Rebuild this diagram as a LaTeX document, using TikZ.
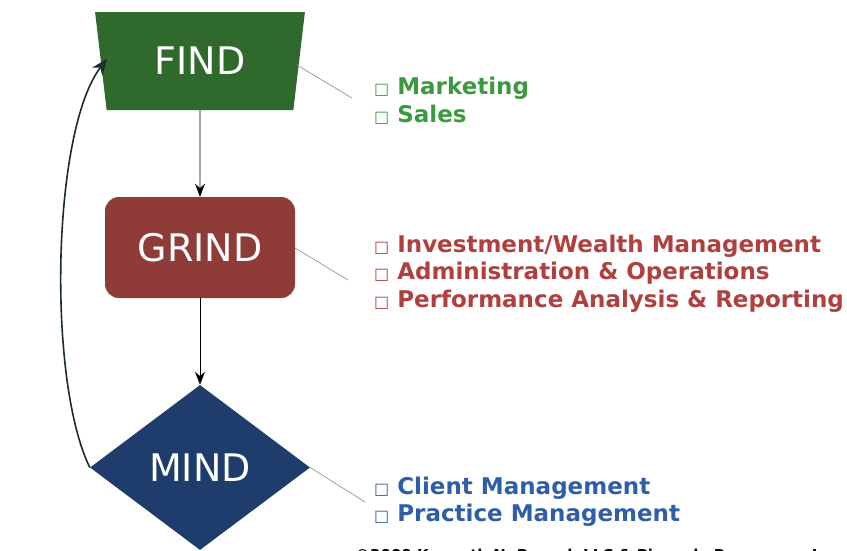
\documentclass[tikz,border=0pt]{standalone}
\usepackage{fontspec}
\setmainfont{DejaVu Sans}
\usetikzlibrary{shapes.geometric,arrows.meta}
\definecolor{findgreen}{HTML}{2F6A2C}
\definecolor{grindred}{HTML}{8F3C39}
\definecolor{mindblue}{HTML}{1E3D6C}
\definecolor{txtgreen}{HTML}{3C9A3E}
\definecolor{txtred}{HTML}{B0403F}
\definecolor{txtblue}{HTML}{2F5EA8}
\definecolor{leader}{HTML}{8A8A8A}
\definecolor{loopcol}{HTML}{1B2B33}
\begin{document}
\begin{tikzpicture}[x=1pt,y=-1pt,
  stage/.style={text=white,font=\fontsize{38}{38}\selectfont,inner sep=0pt},
  flow/.style={-{Stealth[length=13pt,width=10pt]},line width=0.9pt,black},
  leaderline/.style={leader,line width=0.6pt},
  itemlist/.style={anchor=west,align=left,inner sep=0pt,font=\bfseries\fontsize{23}{27.5}\selectfont}]
\useasboundingbox (0,0) rectangle (847,550);
\clip (0,0) rectangle (847,550);

\node[stage,trapezium,trapezium angle=78.5,shape border rotate=180,trapezium stretches=true,
  minimum width=210,minimum height=98,fill=findgreen] (find) at (200,61) {FIND};
\node[stage,rectangle,rounded corners=14pt,minimum width=190,minimum height=101,fill=grindred] (grind) at (200,247.5) {GRIND};
\node[stage,diamond,aspect=1.333,minimum width=220,minimum height=165,fill=mindblue] (mind) at (200,467.5) {MIND};

\draw[flow] (find) -- (grind);
\draw[flow] (grind) -- (mind);

\coordinate (findin) at (107,59);
\draw[line width=1.6pt,loopcol,-{Stealth[length=16pt,width=13pt,fill=findgreen!55!black]}]
  (mind.west) .. controls (47,380) and (52,130) .. (findin);

\coordinate (fl) at (297,65);
\coordinate (fr) at (352,98);
\coordinate (gl) at (295,248);
\coordinate (gr) at (348,280);
\coordinate (mr) at (365,502);
\draw[leaderline] (fl) -- (fr);
\draw[leaderline] (gl) -- (gr);
\draw[leaderline] (mind.east) -- (mr);

\newcommand{\bx}{{\mdseries\fontsize{16}{16}\selectfont □}\hspace{8pt}}
\node[itemlist,text=txtgreen] (findlist) at (374,100.5) {\bx Marketing\\ \bx Sales};
\node[itemlist,text=txtred] (grindlist) at (374,273.5) {\bx Investment/Wealth Management\\ \bx Administration \& Operations\\ \bx Performance Analysis \& Reporting};
\node[itemlist,text=txtblue] (mindlist) at (374,501.5) {\bx Client Management\\ \bx Practice Management};

\node[anchor=west,inner sep=0pt,font=\bfseries\fontsize{15}{15}\selectfont] (copy) at (355,556) {©2009 Kenneth N. Brough LLC \& Pinnacle Resources, Inc.};
\end{tikzpicture}
\end{document}
